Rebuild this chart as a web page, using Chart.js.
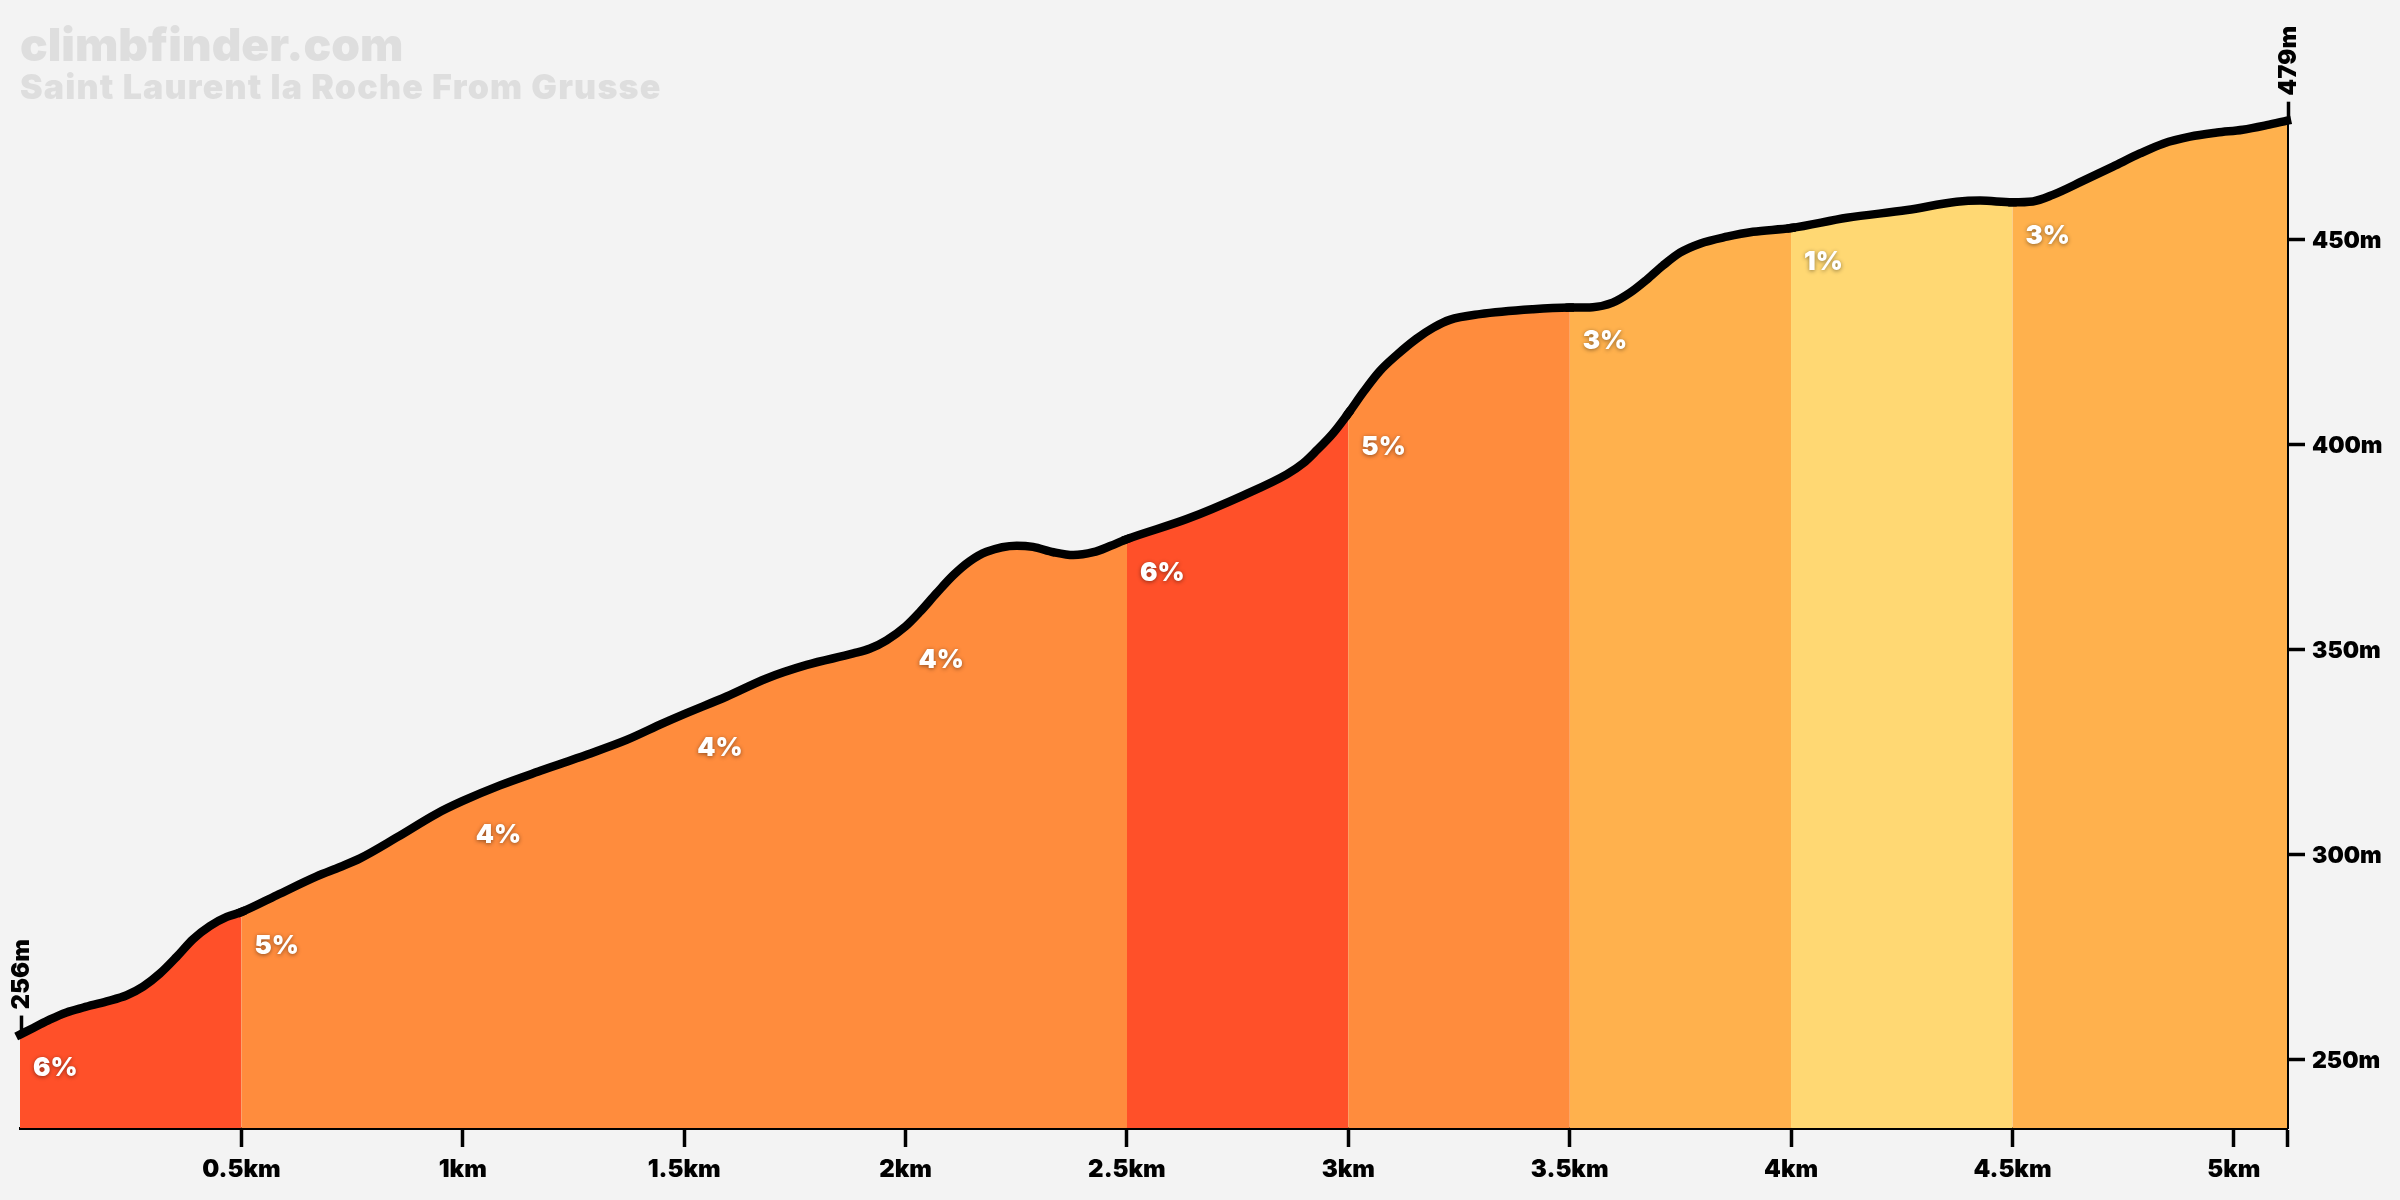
<!DOCTYPE html>
<html>

<head>
  <meta charset="utf-8">
  <title>Saint Laurent la Roche From Grusse</title>
  <script src="https://cdn.jsdelivr.net/npm/chart.js"></script>
  <style>
    body { margin: 0; background: #f3f3f3; }
    canvas { display: block; }
  </style>
</head>

<body>
  <canvas id="climbChart" width="2400" height="1200"></canvas>

  <script>
    // distance (km) / elevation (m)
    const distances = [0, .03, .068, .105, .143, .196, .241, .278, .316, .354, .391, .429, .467, .5, .58, .67, .723, .768, .851, .941, 1, 1.084, 1.182, 1.28, 1.37, 1.453, 1.5, 1.596, 1.686, 1.777, 1.882, 1.92, 1.957, 2, 2.033, 2.07, 2.108, 2.145, 2.183, 2.251, 2.288, 2.334, 2.379, 2.424, 2.462, 2.5, 2.635, 2.763, 2.861, 2.898, 2.928, 2.966, 3, 3.034, 3.071, 3.109, 3.154, 3.192, 3.229, 3.297, 3.417, 3.5, 3.552, 3.597, 3.636, 3.674, 3.71, 3.749, 3.794, 3.855, 3.914, 4, 4.126, 4.262, 4.374, 4.427, 4.5, 4.546, 4.591, 4.659, 4.727, 4.788, 4.84, 4.901, 4.962, 5.02, 5.074, 5.12];
    const elevations = [256, 257.6, 259.7, 261.4, 262.6, 264.1, 265.6, 267.7, 270.9, 275, 279.3, 282.5, 284.7, 285.9, 290, 294.6, 296.9, 299, 304.1, 309.9, 313, 316.8, 320.6, 324.3, 327.9, 332, 334.2, 338.5, 342.9, 346.2, 349, 350.2, 352.2, 355.6, 359.2, 363.7, 368.1, 371.5, 373.8, 375.3, 375, 373.7, 373, 373.7, 375.2, 376.9, 381.8, 387.6, 392.7, 395.4, 398.5, 402.8, 407.6, 412.8, 417.9, 421.8, 425.8, 428.5, 430.4, 431.8, 433, 433.4, 433.5, 434.6, 437, 440.2, 443.6, 446.8, 449, 450.7, 451.9, 452.8, 455.3, 457.2, 459.2, 459.5, 459.1, 459.3, 460.9, 464.3, 467.8, 471, 473.4, 475.1, 476.1, 476.8, 477.9, 479];

    // colour bands
    const bandStarts = [0, .5, 2.5, 3, 3.5, 4, 4.5];
    const bandColors = ['#ff5029', '#ff8c3d', '#ff5029', '#ff8c3d', '#ffb14d', '#ffd873', '#ffb14d'];

    // gradient labels, one every 0.5km
    const gradeStarts = [0, .5, 1, 1.5, 2, 2.5, 3, 3.5, 4, 4.5];
    const gradeLabels = ['6%', '5%', '4%', '4%', '4%', '6%', '5%', '3%', '1%', '3%'];

    const xTicks = [.5, 1, 1.5, 2, 2.5, 3, 3.5, 4, 4.5, 5, 5.12];
    const xTickLabels = ['0.5km', '1km', '1.5km', '2km', '2.5km', '3km', '3.5km', '4km', '4.5km', '5km', ''];
    const yTicks = [250, 300, 350, 400, 450];
    const yTickLabels = ['250m', '300m', '350m', '400m', '450m'];

    const titleText = 'climbfinder.com';
    const subtitleText = 'Saint Laurent la Roche From Grusse';

    const FONT = 'Inter, sans-serif';

    function bandColor(km) {
      let color = bandColors[0];
      bandStarts.forEach((start, i) => { if (km >= start) color = bandColors[i]; });
      return color;
    }

    // watermark, gradient labels and the start/end height markers
    const profileLabels = {
      id: 'profileLabels',
      afterDraw(chart) {
        const { ctx, scales: { x, y } } = chart;
        ctx.save();

        // watermark
        ctx.fillStyle = '#dedede';
        ctx.textAlign = 'left';
        ctx.textBaseline = 'alphabetic';
        ctx.font = '900 46px ' + FONT;
        ctx.fillText(titleText, 20, 61);
        ctx.font = '900 34px ' + FONT;
        ctx.letterSpacing = '1.2px';
        ctx.fillText(subtitleText, 20, 99);
        ctx.letterSpacing = '0px';

        // gradient labels
        ctx.font = '900 26px ' + FONT;
        ctx.textBaseline = 'middle';
        ctx.fillStyle = '#fff';
        ctx.shadowColor = 'rgba(0,0,0,.45)';
        ctx.shadowBlur = 4;
        ctx.shadowOffsetY = 1;
        gradeStarts.forEach((km, i) => {
          const ele = elevations[distances.indexOf(km)];
          ctx.fillText(gradeLabels[i], x.getPixelForValue(km) + 13, y.getPixelForValue(ele) + 34);
        });
        ctx.shadowColor = 'transparent';

        // start and end markers
        ctx.strokeStyle = '#000';
        ctx.fillStyle = '#000';
        ctx.lineWidth = 3.5;
        const last = distances.length - 1;
        [0, last].forEach(i => {
          const px = x.getPixelForValue(distances[i]) + 1.5;
          const py = y.getPixelForValue(elevations[i]);
          ctx.beginPath();
          ctx.moveTo(px, py);
          ctx.lineTo(px, py - 19);
          ctx.stroke();
          ctx.save();
          ctx.translate(px, py - 25);
          ctx.rotate(-Math.PI / 2);
          ctx.font = '900 24px ' + FONT;
          ctx.textAlign = 'left';
          ctx.textBaseline = 'middle';
          ctx.fillText(elevations[i] + 'm', 0, 0);
          ctx.restore();
        });
        ctx.restore();
      }
    };

    const points = distances.map((km, i) => ({ x: km, y: elevations[i] }));
    const fillSegments = { backgroundColor: c => bandColor(c.p0.parsed.x) };

    new Chart(document.getElementById('climbChart'), {
      type: 'line',
      data: {
        labels: distances,
        datasets: [{
          data: points,
          borderColor: '#000',
          borderWidth: 8.5,
          borderCapStyle: 'square',
          pointRadius: 0,
          cubicInterpolationMode: 'monotone',
          clip: false,
          fill: 'start',
          backgroundColor: bandColors[0],
          segment: fillSegments,
          order: 0
        }, {
          // same fill underneath, closes the hairline seams between bands
          data: points,
          borderWidth: 0,
          pointRadius: 0,
          cubicInterpolationMode: 'monotone',
          fill: 'start',
          backgroundColor: bandColors[0],
          segment: fillSegments,
          order: 1
        }]
      },
      options: {
        responsive: false,
        devicePixelRatio: 1,
        animation: false,
        layout: { padding: { left: 20, top: 120.7, right: 0, bottom: 0 } },
        plugins: { legend: { display: false }, tooltip: { enabled: false } },
        scales: {
          x: {
            type: 'linear',
            min: 0,
            max: 5.12,
            afterFit(scale) { scale.height = 72; },
            afterBuildTicks(scale) { scale.ticks = xTicks.map(v => ({ value: v })); },
            border: { color: '#000', width: 3 },
            grid: { drawOnChartArea: false, tickLength: 19, tickWidth: 3.5, tickColor: '#000' },
            ticks: {
              autoSkip: false,
              maxRotation: 0,
              padding: 8,
              color: '#000',
              font: { family: FONT, size: 24, weight: '900' },
              callback: (value, index) => xTickLabels[index]
            }
          },
          y: {
            position: 'right',
            min: 233.2,
            max: 479,
            afterFit(scale) { scale.width = 113; },
            afterBuildTicks(scale) { scale.ticks = yTicks.map(v => ({ value: v })); },
            border: { color: '#000', width: 3 },
            grid: { drawOnChartArea: false, tickLength: 18, tickWidth: 3.5, tickColor: '#000' },
            ticks: {
              autoSkip: false,
              padding: 7,
              labelOffset: 2,
              color: '#000',
              font: { family: FONT, size: 23, weight: '900' },
              callback: (value, index) => yTickLabels[index]
            }
          }
        }
      },
      plugins: [profileLabels]
    });
  </script>
</body>

</html>
